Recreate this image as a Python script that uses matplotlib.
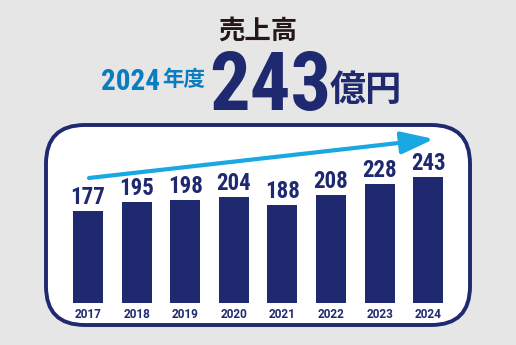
import matplotlib
matplotlib.use("Agg")
import matplotlib.pyplot as plt
from matplotlib.patches import FancyBboxPatch, FancyArrowPatch

years = ["2017", "2018", "2019", "2020", "2021", "2022", "2023", "2024"]
sales = [177, 195, 198, 204, 188, 208, 228, 243]

W, H = 516, 345
NAVY = "#1f296f"
BLUE = "#0a7cbf"
SKY = "#19a8e2"
BG = "#e6e6e6"

COND = "Roboto Condensed"
CJK = "Noto Sans CJK JP"

fig = plt.figure(figsize=(W / 100, H / 100), dpi=100, facecolor=BG)

def fx(x):
    return x / W

def fy(y):
    return 1 - y / H

# rounded white panel
box = FancyBboxPatch((fx(46), fy(325)), fx(424), (325 - 125) / H,
                     boxstyle="round,pad=0,rounding_size=0.075",
                     transform=fig.transFigure, facecolor="white",
                     edgecolor=NAVY, linewidth=2.8, zorder=-5,
                     mutation_aspect=W / H)
fig.patches.append(box)

# bar axes
step = 48.6
left = 88 - 0.5 * step
ax = fig.add_axes([fx(left), fy(303), fx(8 * step), 156 / H])
ax.set_zorder(2)
ax.set_facecolor("none")
x = list(range(len(years)))
ax.bar(x, sales, width=0.62, color=NAVY, zorder=2)
ax.set_xlim(-0.5, len(years) - 0.5)
ax.set_ylim(0, 300)
for s in ax.spines.values():
    s.set_visible(False)
ax.set_yticks([])
ax.set_xticks(x)
ax.set_xticklabels(years, fontfamily="Roboto", fontweight="bold",
                   fontsize=8.5, color=NAVY)
ax.tick_params(axis="x", length=0, pad=3.5)
for xi, v in zip(x, sales):
    ax.annotate(str(v), (xi, v), xytext=(0, 1.5), textcoords="offset points",
                ha="center", va="bottom", fontfamily=COND, fontweight="bold",
                fontsize=16.5, color=NAVY)

# trend arrow
arr = FancyArrowPatch((fx(89), fy(178)), (fx(434), fy(139)),
                      transform=fig.transFigure,
                      arrowstyle="-|>,head_length=1.0,head_width=0.34",
                      mutation_scale=20, color=SKY, linewidth=3.0,
                      shrinkA=0, shrinkB=0, capstyle="round", zorder=3)
fig.patches.append(arr)

# headline texts
fig.text(fx(258), fy(31), "売上高", ha="center", va="center",
         fontfamily=CJK, fontweight="bold", fontsize=19, color="#231815")
fig.text(fx(160), fy(90), "2024", ha="right", va="baseline",
         fontfamily=COND, fontweight="bold", fontsize=21, color=BLUE)
fig.text(fx(162), fy(80), "年度", ha="left", va="center",
         fontfamily=CJK, fontweight="bold", fontsize=15.5, color=BLUE)
fig.text(fx(270), fy(110), "243", ha="center", va="baseline",
         fontfamily=COND, fontweight="bold", fontsize=58, color=NAVY)
fig.text(fx(330), fy(90), "億円", ha="left", va="center",
         fontfamily=CJK, fontweight="bold", fontsize=26, color=NAVY)

fig.savefig("out.png", dpi=100, facecolor=BG)
